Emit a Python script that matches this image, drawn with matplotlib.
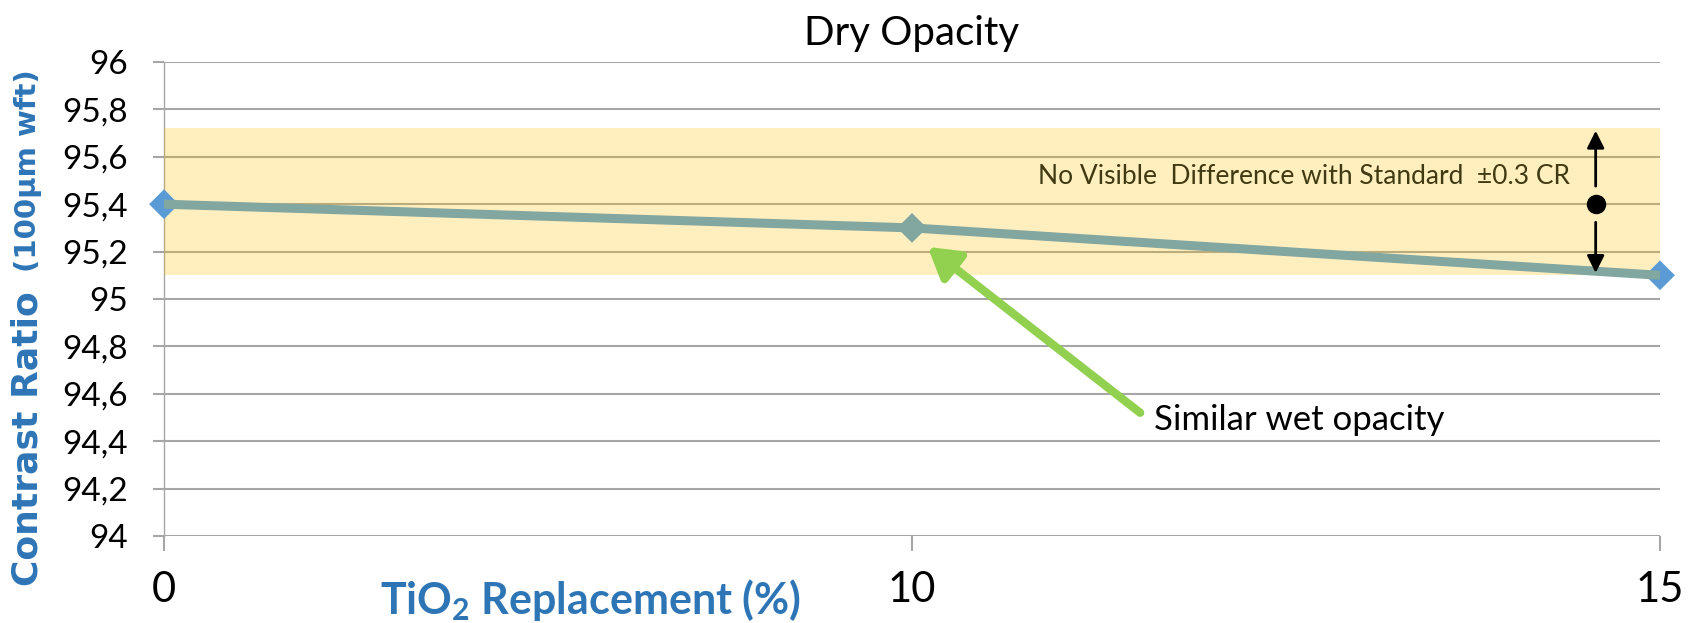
import matplotlib
matplotlib.use('Agg')
import matplotlib.pyplot as plt

# DATA
replacement = ['0', '10', '15']
contrast_ratio = [95.4, 95.3, 95.1]
band_low = 95.1
band_high = 95.72
std_value = 95.4
y_ticks = [94, 94.2, 94.4, 94.6, 94.8, 95, 95.2, 95.4, 95.6, 95.8, 96]
y_tick_labels = ['94', '94,2', '94,4', '94,6', '94,8', '95', '95,2', '95,4',
                 '95,6', '95,8', '96']

plt.rcParams['font.family'] = ['Lato', 'DejaVu Sans']
plt.rcParams['mathtext.fontset'] = 'custom'
plt.rcParams['mathtext.rm'] = 'Lato:bold'
plt.rcParams['mathtext.bf'] = 'Lato:bold'

LINE = '#82A6A0'
BLUE = '#5B9BD5'
LABEL_BLUE = '#2E75B6'
GRID = '#A6A6A6'

fig = plt.figure(figsize=(16.96, 6.23), dpi=100)
ax = fig.add_axes([164 / 1696, 1 - 536 / 623, 1496 / 1696, 474 / 623])

x = list(range(len(replacement)))

# tolerance band (transparent so the grid shows through)
ax.fill_between([x[0], x[-1]], band_low, band_high, color='#FFC000',
                alpha=0.25, linewidth=0, zorder=3)

# markers below the line, line on top
ax.scatter(x, contrast_ratio, marker='D', s=230,
           c=[BLUE, LINE, BLUE], zorder=4, clip_on=False, linewidths=0)
ax.plot(x, contrast_ratio, color=LINE, linewidth=6.5, zorder=5,
        solid_capstyle='butt', clip_on=False)

# axes styling
ax.set_xlim(x[0], x[-1])
ax.set_ylim(y_ticks[0], y_ticks[-1])
ax.set_yticks(y_ticks)
ax.set_yticklabels(y_tick_labels)
ax.set_xticks(x)
ax.set_xticklabels(replacement)
ax.yaxis.grid(True, color=GRID, linewidth=1.5, zorder=1)
ax.set_axisbelow(True)
for side in ['top', 'right', 'bottom']:
    ax.spines[side].set_visible(False)
ax.spines['left'].set_color(GRID)
ax.spines['left'].set_linewidth(1.0)
ax.tick_params(axis='y', length=8, width=1.5, color=GRID, labelsize=24,
               pad=18)
ax.tick_params(axis='x', length=11, width=1.5, color=GRID, labelsize=30,
               pad=14)

ax.set_title('Dry Opacity', fontsize=29, pad=12)

# x label sits in the tick-label row
ax.text(0.285, -0.135, r'TiO$_{\mathbf{2}}$ Replacement (%)',
        transform=ax.transAxes, ha='center', va='center', fontsize=31,
        fontweight='bold', color=LABEL_BLUE)

# y label: big part + smaller units
yl = ax.text(-0.091, -0.105, 'Contrast Ratio', transform=ax.transAxes,
             rotation=90, ha='center', va='bottom', fontsize=26,
             fontweight='bold', color=LABEL_BLUE, family='DejaVu Sans')
ax.annotate('(100µm wft)', xy=(0.5, 1), xycoords=yl, xytext=(0, 14),
            textcoords='offset points', rotation=90, ha='center',
            va='bottom', fontsize=21, fontweight='bold', color=LABEL_BLUE,
            family='DejaVu Sans')

# +/- 0.3 CR marker
arr_x = 1.914
ax.plot([arr_x], [std_value], 'o', color='black', markersize=13, zorder=6)
for end in [band_high - 0.01, band_low + 0.01]:
    ax.annotate('', xy=(arr_x, end), xytext=(arr_x, std_value),
                arrowprops=dict(arrowstyle='-|>', color='black', lw=2,
                                mutation_scale=26, shrinkA=13, shrinkB=0),
                zorder=6)
ax.text(1.88, 95.515, 'No Visible  Difference with Standard  ±0.3 CR',
        ha='right', va='center', fontsize=19, color='#403A12', zorder=6)

# green callout
ax.annotate('', xy=(1.021, 95.22), xytext=(1.305, 94.52),
            arrowprops=dict(arrowstyle='-|>,head_length=0.5,head_width=0.3',
                            color='#92D050', lw=6, mutation_scale=36,
                            shrinkA=0, shrinkB=0), zorder=6)
ax.text(1.323, 94.49, 'Similar wet opacity', ha='left', va='center',
        fontsize=25, color='black', zorder=6)

fig.savefig('out.png', dpi=100)
